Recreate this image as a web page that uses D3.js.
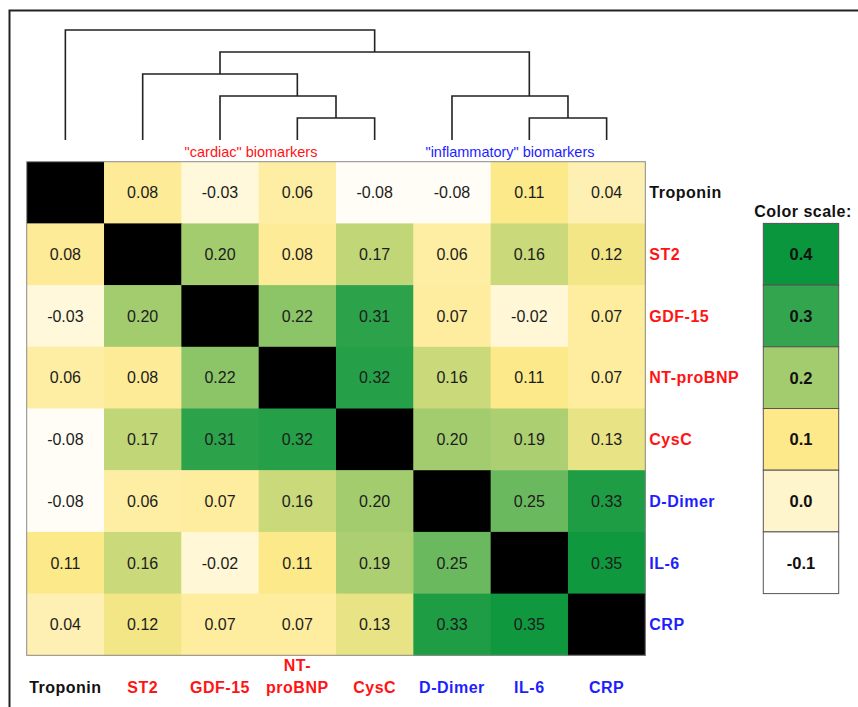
<!DOCTYPE html>
<html>
<head>
<meta charset="utf-8">
<script src="https://cdn.jsdelivr.net/npm/d3@7/dist/d3.min.js"></script>
<style>
  html, body { margin: 0; padding: 0; background: #fff; }
  svg { display: block; font-family: "Liberation Sans", Arial, sans-serif; }
</style>
</head>
<body>
<svg id="chart" width="858" height="707"></svg>
<script>
// Biomarkers in clustered order
const markers = ["Troponin", "ST2", "GDF-15", "NT-proBNP", "CysC", "D-Dimer", "IL-6", "CRP"];
// Group of each marker: "none", "cardiac", "inflammatory"
const markerGroup = ["none", "cardiac", "cardiac", "cardiac", "cardiac", "inflammatory", "inflammatory", "inflammatory"];
// Pairwise correlations (diagonal left empty)
const rowTroponin = [null, 0.08, -0.03, 0.06, -0.08, -0.08, 0.11, 0.04];
const rowST2      = [0.08, null, 0.20, 0.08, 0.17, 0.06, 0.16, 0.12];
const rowGDF15    = [-0.03, 0.20, null, 0.22, 0.31, 0.07, -0.02, 0.07];
const rowNTproBNP = [0.06, 0.08, 0.22, null, 0.32, 0.16, 0.11, 0.07];
const rowCysC     = [-0.08, 0.17, 0.31, 0.32, null, 0.20, 0.19, 0.13];
const rowDDimer   = [-0.08, 0.06, 0.07, 0.16, 0.20, null, 0.25, 0.33];
const rowIL6      = [0.11, 0.16, -0.02, 0.11, 0.19, 0.25, null, 0.35];
const rowCRP      = [0.04, 0.12, 0.07, 0.07, 0.13, 0.33, 0.35, null];
const correlations = [rowTroponin, rowST2, rowGDF15, rowNTproBNP, rowCysC, rowDDimer, rowIL6, rowCRP];

// Colour legend steps
const legendValues = [0.4, 0.3, 0.2, 0.1, 0.0, -0.1];
const legendLabels = ["0.4", "0.3", "0.2", "0.1", "0.0", "-0.1"];

// Hierarchical clustering tree: merge level and the column position the branch rises from
const dendroMerges = [
  { id: "n1", left: "NT-proBNP", right: "CysC", level: 1, pos: 3.5 },
  { id: "n2", left: "GDF-15", right: "n1", level: 2, pos: 3 },
  { id: "n3", left: "ST2", right: "n2", level: 3, pos: 2 },
  { id: "n4", left: "IL-6", right: "CRP", level: 1, pos: 6.5 },
  { id: "n5", left: "D-Dimer", right: "n4", level: 2, pos: 6 },
  { id: "n6", left: "n3", right: "n5", level: 4, pos: 4 },
  { id: "n7", left: "Troponin", right: "n6", level: 5, pos: 2 }
];

const groupColor = { none: "#111111", cardiac: "#ff1414", inflammatory: "#1e1eff" };
// Two decimals with a plain hyphen for negatives
const fmt = v => v.toFixed(2);

const svg = d3.select("#chart");

// Outer frame (top and left edges)
svg.append("path")
  .attr("d", "M9.5,707 V10.5 H858")
  .attr("fill", "none").attr("stroke", "#222").attr("stroke-width", 2);

const hmLeft = 26.7, hmRight = 645.3, hmTop = 161.7, hmBottom = 655.3;
const x = d3.scaleBand().domain(markers).range([hmLeft, hmRight]);
const y = d3.scaleBand().domain(markers).range([hmTop, hmBottom]);
const bw = x.bandwidth(), bh = y.bandwidth();

const color = d3.scaleLinear()
  .domain([-0.1, 0.0, 0.1, 0.11, 0.2, 0.3, 0.35, 0.4])
  .range(["#ffffff", "#fff5cc", "#fde98a", "#fce98a", "#a2cc6e", "#33a54e", "#10983f", "#0a963c"])
  .clamp(true);

// Heatmap cells
const cells = [];
correlations.forEach((row, i) => row.forEach((v, j) => cells.push({ r: markers[i], c: markers[j], v })));

const gCells = svg.append("g");
gCells.selectAll("rect").data(cells).join("rect")
  .attr("x", d => x(d.c)).attr("y", d => y(d.r))
  .attr("width", bw + 0.5).attr("height", bh + 0.5)
  .attr("fill", d => d.v === null ? "#000" : color(d.v));

gCells.selectAll("text").data(cells.filter(d => d.v !== null)).join("text")
  .attr("x", d => x(d.c) + bw / 2).attr("y", d => y(d.r) + bh / 2)
  .attr("dy", "0.36em").attr("text-anchor", "middle")
  .attr("font-size", 16).attr("fill", "#1c1c1c")
  .text(d => fmt(d.v));

svg.append("rect")
  .attr("x", hmLeft).attr("y", hmTop).attr("width", hmRight - hmLeft).attr("height", hmBottom - hmTop)
  .attr("fill", "none").attr("stroke", "#8a8a8a").attr("stroke-width", 1);

// Row labels on the right
svg.append("g").selectAll("text").data(markers).join("text")
  .attr("x", hmRight + 4).attr("y", d => y(d) + bh / 2).attr("dy", "0.36em")
  .attr("font-size", 16).attr("font-weight", "bold").attr("letter-spacing", 0.5)
  .attr("fill", (d, i) => groupColor[markerGroup[i]])
  .text(d => d);

// Column labels below (NT-proBNP wraps onto two lines)
const colLabels = svg.append("g").selectAll("text").data(markers).join("text")
  .attr("x", d => x(d) + bw / 2).attr("y", 693)
  .attr("text-anchor", "middle")
  .attr("font-size", 16).attr("font-weight", "bold").attr("letter-spacing", 0.5)
  .attr("fill", (d, i) => groupColor[markerGroup[i]]);
colLabels.each(function (d) {
  const t = d3.select(this);
  if (d === "NT-proBNP") {
    t.append("tspan").attr("x", x(d) + bw / 2).attr("dy", "-1.4em").text("NT-");
    t.append("tspan").attr("x", x(d) + bw / 2).attr("dy", "1.4em").text("proBNP");
  } else {
    t.text(d);
  }
});

// Dendrogram
const px = d3.scaleLinear().domain([0, markers.length - 1]).range([x(markers[0]) + bw / 2, x(markers[markers.length - 1]) + bw / 2]);
const py = d3.scaleLinear().domain([0, 5]).range([140, 30]);
const nodes = {};
markers.forEach((m, i) => { nodes[m] = { pos: i, level: 0 }; });
dendroMerges.forEach(m => { nodes[m.id] = { pos: m.pos, level: m.level }; });

const links = [];
dendroMerges.forEach(m => {
  const a = nodes[m.left], b = nodes[m.right];
  links.push(`M${px(a.pos)},${py(a.level)} V${py(m.level)} H${px(b.pos)} V${py(b.level)}`);
});
svg.append("g").selectAll("path").data(links).join("path")
  .attr("d", d => d)
  .attr("fill", "none").attr("stroke", "#222").attr("stroke-width", 1.6);

// Cluster annotations
svg.append("text").attr("x", 251).attr("y", 157).attr("text-anchor", "middle")
  .attr("font-size", 14.5).attr("fill", groupColor.cardiac)
  .text("\"cardiac\" biomarkers");
svg.append("text").attr("x", 510).attr("y", 157).attr("text-anchor", "middle")
  .attr("font-size", 14.5).attr("fill", groupColor.inflammatory)
  .text("\"inflammatory\" biomarkers");

// Colour scale legend
const legX = 763.3, legW = 75.4;
const legY = d3.scaleBand().domain(legendValues).range([y(markers[1]), y(markers[7])]);
svg.append("text").attr("x", legX + legW / 2 + 2).attr("y", 217).attr("text-anchor", "middle")
  .attr("font-size", 16).attr("font-weight", "bold").attr("letter-spacing", 0.5)
  .attr("fill", "#111").text("Color scale:");
const leg = svg.append("g");
leg.selectAll("rect").data(legendValues).join("rect")
  .attr("x", legX).attr("y", d => legY(d))
  .attr("width", legW).attr("height", legY.bandwidth())
  .attr("fill", d => color(d)).attr("stroke", "#555").attr("stroke-width", 1);
leg.selectAll("text").data(legendValues).join("text")
  .attr("x", legX + legW / 2).attr("y", d => legY(d) + legY.bandwidth() / 2)
  .attr("dy", "0.36em").attr("text-anchor", "middle")
  .attr("font-size", 16.5).attr("font-weight", "bold").attr("fill", "#111")
  .text((d, i) => legendLabels[i]);
</script>
</body>
</html>
